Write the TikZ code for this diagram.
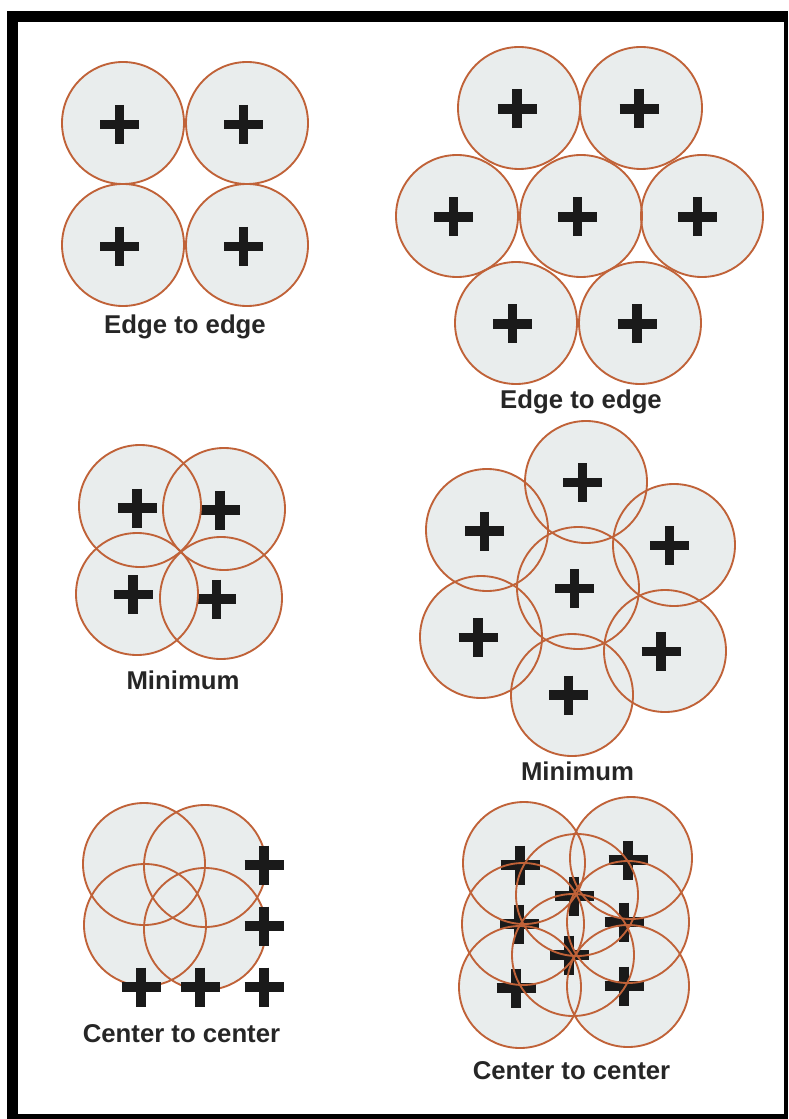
\documentclass[tikz,border=0pt]{standalone}
\usepackage{fontspec}
\setmainfont{Liberation Sans}
\definecolor{discfill}{RGB}{233,237,237}
\definecolor{ringcol}{RGB}{192,98,56}
\definecolor{inkcol}{RGB}{26,26,26}
\definecolor{labelcol}{RGB}{38,38,38}
\tikzset{
  disc/.style={fill=discfill},
  ring/.style={draw=ringcol, line width=1.4pt},
  plusbar/.style={draw=inkcol, line width=7.2pt, line cap=butt},
  lbl/.style={text=labelcol, font=\fontsize{19.3}{23}\selectfont\bfseries, anchor=base, inner sep=0pt},
  pics/plus/.style={code={
    \draw[plusbar] (-19.5,0) -- (19.5,0);
    \draw[plusbar] (0,-19.5) -- (0,19.5);
  }}
}
\newcommand{\discfills}[1]{\foreach \p in {#1} {\fill[disc] \p circle[radius=45.75pt];}}
\newcommand{\discrings}[1]{\foreach \p in {#1} {\draw[ring] \p circle[radius=45.75pt];}}
\newcommand{\pluses}[1]{\foreach \p in {#1} {\pic at \p {plus};}}
\newcommand{\group}[2]{\discfills{#1}\pluses{#2}\discrings{#1}}
\begin{document}
\begin{tikzpicture}[x=0.75pt,y=-0.75pt]
\useasboundingbox (0,0) rectangle (788,1119);
% frame
\fill[white] (0,0) rectangle (788,1119);
\fill[black] (7,11) rectangle (788,1119);
\fill[white] (18,22) rectangle (784,1114);

% G1 edge to edge 2x2
\group{(123,123),(247,123),(123,245),(247,245)}
      {(119.5,124.5),(243.5,124.5),(119.5,246.5),(243.5,246.5)}
\node[lbl] (l1) at (185,334) {Edge to edge};

% G2 edge to edge hex
\group{(519,108),(641,108),(457,216),(581,216),(702,216),(516,323),(640,323)}
      {(517,109),(639,109),(453.5,217),(577.5,217),(697.5,217),(512.5,324),(637,324)}
\node[lbl] (l2) at (581,408) {Edge to edge};

% G3 minimum 2x2
\group{(140,506),(224,509),(137,594),(221,598)}
      {(137,508),(220,510),(133,594.5),(216.5,599)}
\node[lbl] (l3) at (183,689) {Minimum};

% G4 minimum 7
\group{(586,482),(487,530),(674,545),(578,588),(481,637),(665,651),(572,695)}
      {(582.5,482.5),(484.5,531),(669.5,545.5),(574.5,588.5),(478,637.5),(661,651.5),(568.5,695)}
\node[lbl] (l4) at (577.5,780) {Minimum};

% G5 center to center 2x2 (crosses printed over the rings)
\discfills{(144,864),(205,866),(145,925),(205,929)}
\discrings{(144,864),(205,866),(145,925),(205,929)}
\pluses{(264,865),(264,926),(141,987),(200,987),(264,987)}
\node[lbl] (l5) at (181.5,1042) {Center to center};

% G6 center to center 8
\group{(524,863),(631,858),(577,895),(523,924),(628,922),(573,955),(520,987),(628,986)}
      {(520,865),(628,860),(574,896),(519,924),(624,922),(569,955),(516,988),(624,986)}
\node[lbl] (l6) at (571.5,1079) {Center to center};
\end{tikzpicture}
\end{document}
